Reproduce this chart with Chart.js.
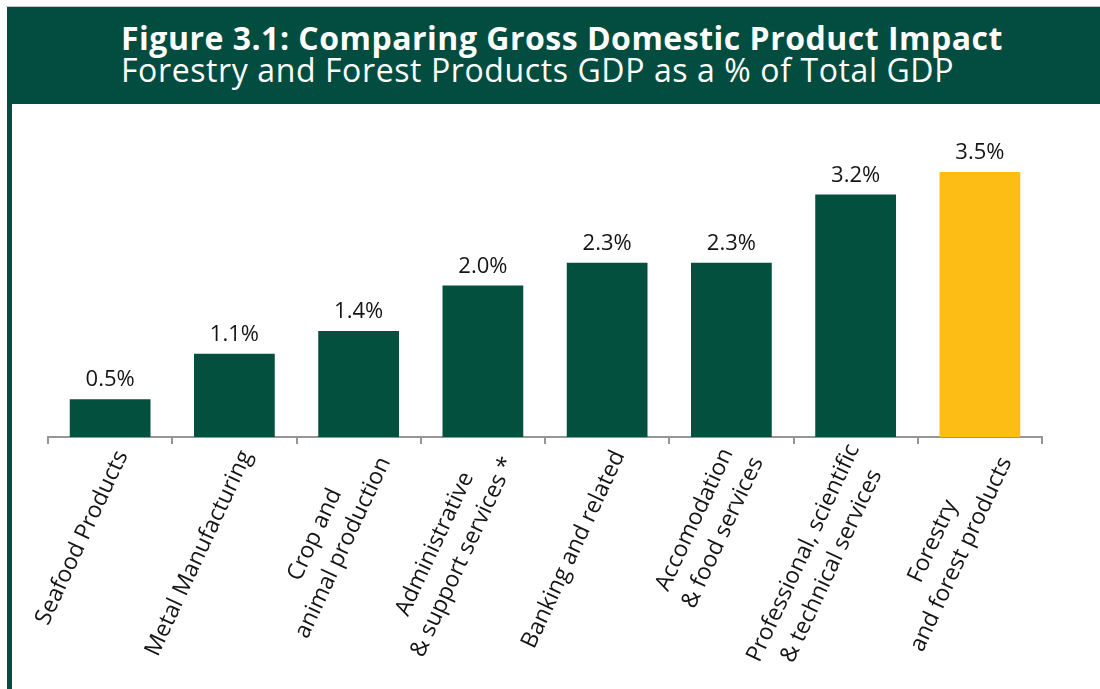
<!DOCTYPE html>
<html>
<head>
<meta charset="utf-8">
<script src="https://cdn.jsdelivr.net/npm/chart.js@4"></script>
<style>
  html, body { margin: 0; padding: 0; background: #fff; }
  body { width: 1100px; height: 689px; position: relative; overflow: hidden; font-family: "Open Sans", sans-serif; }
  .frame-top { position: absolute; left: 6px; top: 6px; right: 0; height: 1px; background: #c8c8c8; }
  .header { position: absolute; left: 7px; top: 7px; right: 0; height: 97px; background: #034c40; color: #fff; }
  .header div { position: absolute; left: 114px; font-size: 32px; line-height: 44px; white-space: nowrap; letter-spacing: 0.6px; }
  .header .t1 { top: 9px; font-weight: 700; letter-spacing: 0.5px; }
  .header .t2 { top: 41px; }
  .side { position: absolute; left: 7px; top: 104px; width: 5px; bottom: 0; background: #034c40; }
  .plot { position: absolute; left: 0; top: 104px; width: 1100px; height: 585px; }
</style>
</head>
<body>
<div class="frame-top"></div>
<div class="header">
  <div class="t1">Figure 3.1: Comparing Gross Domestic Product Impact</div>
  <div class="t2">Forestry and Forest Products GDP as a % of Total GDP</div>
</div>
<div class="side"></div>
<div class="plot"><canvas id="gdpChart"></canvas></div>

<script>
// sectors, one entry per bar (line breaks as printed under the axis)
const categories = [
  ["Seafood Products"],
  ["Metal Manufacturing"],
  ["Crop and", "animal production"],
  ["Administrative", "& support services *"],
  ["Banking and related"],
  ["Accomodation", "& food services"],
  ["Professional, scientific", "& technical services"],
  ["Forestry", "and forest products"]
];

// share of total GDP, percent
const gdpShare = [0.5, 1.1, 1.4, 2.0, 2.3, 2.3, 3.2, 3.5];

const highlightIndex = categories.length - 1;
const green = "#03503f";
const gold = "#fdbd14";

// value labels above the bars and rotated sector names below the axis
const barText = {
  id: "barText",
  afterDatasetsDraw(chart) {
    const ctx = chart.ctx;
    const meta = chart.getDatasetMeta(0);
    const xScale = chart.scales.x;

    ctx.save();
    ctx.fillStyle = "#151515";
    ctx.font = '22px "Open Sans"';
    ctx.textAlign = "center";
    ctx.textBaseline = "bottom";
    meta.data.forEach((bar, i) => {
      ctx.fillText(gdpShare[i].toFixed(1) + "%", bar.x, bar.y - 8);
    });

    ctx.font = '23px "Open Sans"';
    ctx.textBaseline = "middle";
    const angle = -65 * Math.PI / 180;
    const lh = 31;
    categories.forEach((lines, i) => {
      const x = xScale.getPixelForValue(i) + 12;
      const y = chart.chartArea.bottom + 15;
      const w = Math.max(...lines.map(l => ctx.measureText(l).width));
      ctx.save();
      ctx.translate(x, y);
      ctx.rotate(angle);
      lines.forEach((line, k) => {
        ctx.fillText(line, -w / 2, (k - (lines.length - 1) / 2) * lh);
      });
      ctx.restore();
    });
    ctx.restore();
  }
};

new Chart(document.getElementById("gdpChart"), {
  type: "bar",
  data: {
    labels: categories,
    datasets: [{
      data: gdpShare,
      backgroundColor: ctx => ctx.dataIndex === highlightIndex ? gold : green,
      borderWidth: 0,
      barPercentage: 0.65,
      categoryPercentage: 1
    }]
  },
  options: {
    responsive: true,
    maintainAspectRatio: false,
    animation: false,
    layout: {
      padding: { top: 30, left: 48, right: 58, bottom: 245 }
    },
    plugins: {
      legend: { display: false },
      tooltip: { enabled: false }
    },
    scales: {
      x: {
        offset: true,
        grid: {
          offset: true,
          drawOnChartArea: false,
          drawTicks: true,
          tickLength: 7,
          color: "#959595",
          lineWidth: 2
        },
        border: { color: "#959595", width: 2 },
        ticks: { display: false }
      },
      y: {
        display: false,
        min: 0,
        max: 4
      }
    }
  },
  plugins: [barText]
});
</script>
</body>
</html>
